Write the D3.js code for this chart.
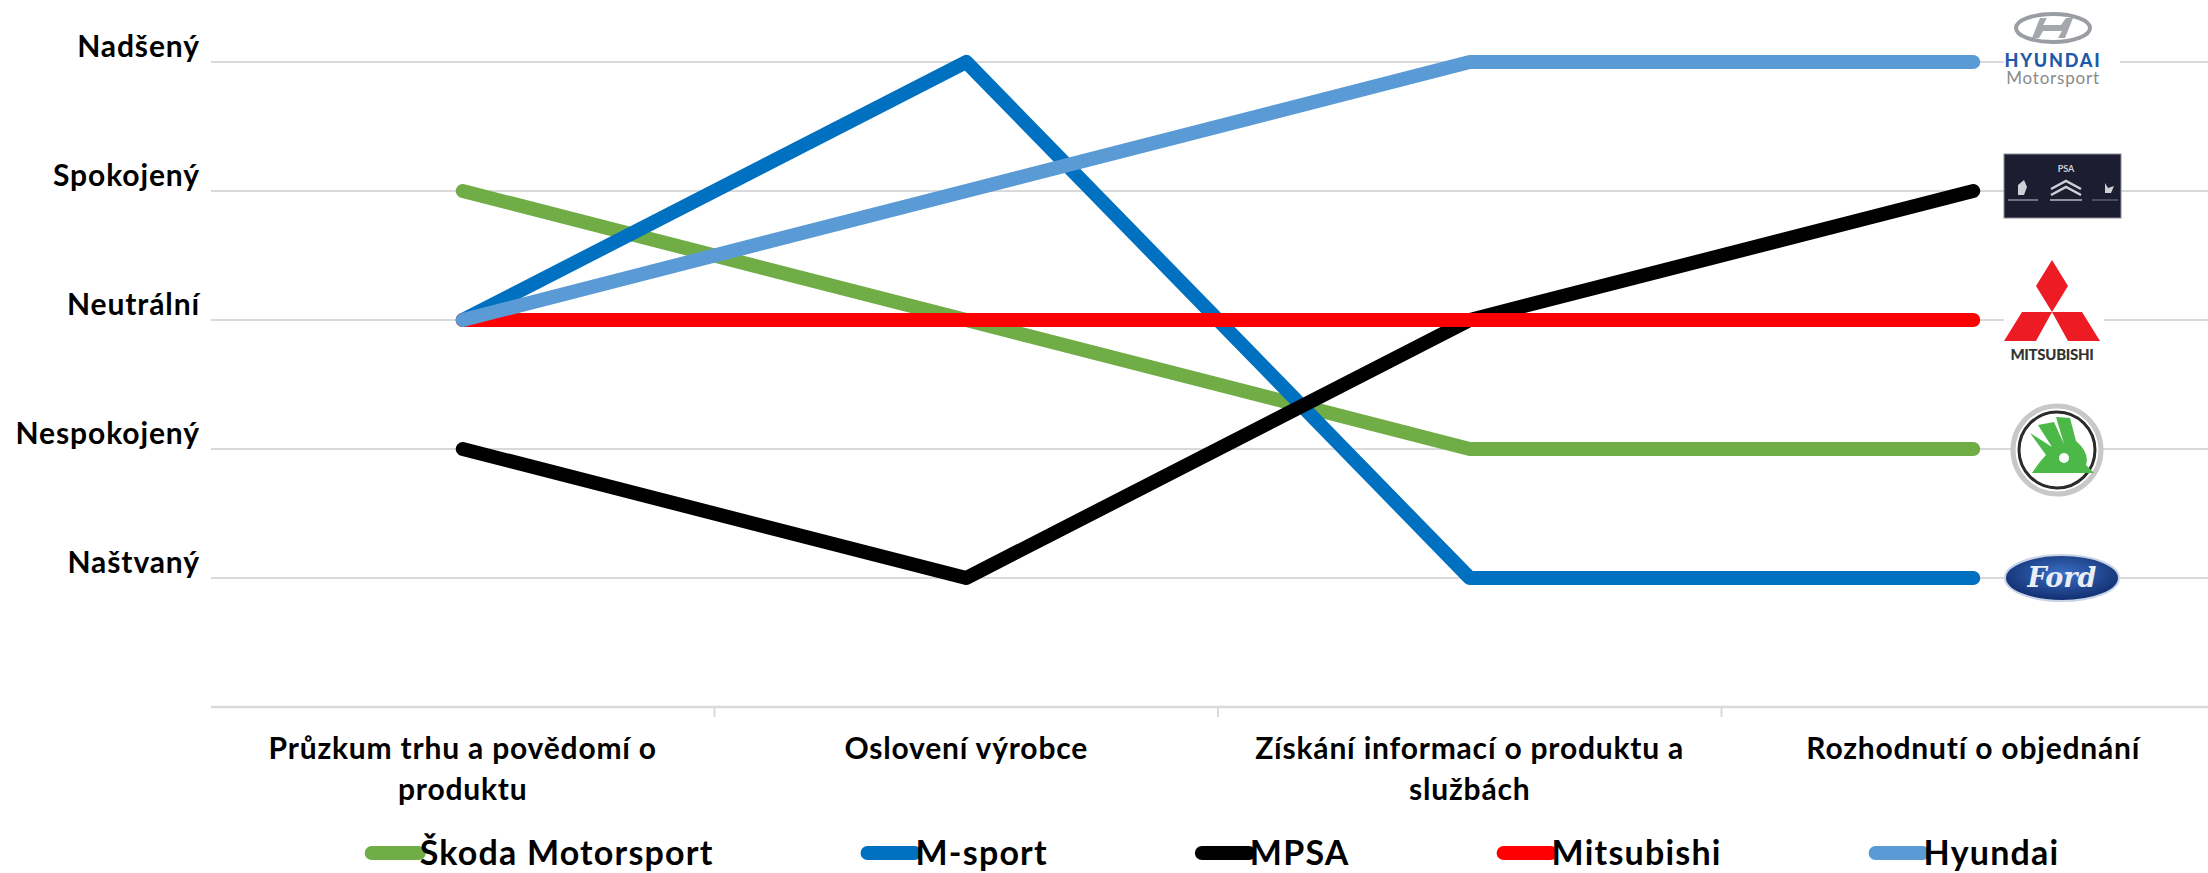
<!DOCTYPE html>
<html>
<head>
<meta charset="utf-8">
<script src="https://cdn.jsdelivr.net/npm/d3@7"></script>
<style>
  body { margin: 0; background: #fff; }
  svg { display: block; font-family: Lato, "Open Sans", sans-serif; }
</style>
</head>
<body>
<svg width="2208" height="873"></svg>
<script>
var categories = [
  ["Průzkum trhu a povědomí o", "produktu"],
  ["Oslovení výrobce"],
  ["Získání informací o produktu a", "službách"],
  ["Rozhodnutí o objednání"]
];
var levelLabels = ["Naštvaný", "Nespokojený", "Neutrální", "Spokojený", "Nadšený"];
var levelValues = [1, 2, 3, 4, 5];

var seriesNames = ["Škoda Motorsport", "M-sport", "MPSA", "Mitsubishi", "Hyundai"];
var seriesColors = ["#70ad47", "#0070c0", "#000000", "#ff0000", "#5b9bd5"];
var skodaValues = [4, 3, 2, 2];
var msportValues = [3, 5, 1, 1];
var mpsaValues = [2, 1, 3, 4];
var mitsubishiValues = [3, 3, 3, 3];
var hyundaiValues = [3, 4, 5, 5];
var logos = ["skoda", "ford", "psa", "mitsubishi", "hyundai"];

var series = seriesNames.map(function (name, i) {
  return {
    name: name,
    color: seriesColors[i],
    values: [skodaValues, msportValues, mpsaValues, mitsubishiValues, hyundaiValues][i]
  };
});

var svg = d3.select("svg");
var catKeys = categories.map(function (c) { return c.join(" "); });

var xBand = d3.scaleBand().domain(catKeys).range([211, 2225]);
var yScale = d3.scaleLinear().domain([0, 5]).range([707, 62]);
var xCenter = function (i) { return xBand(catKeys[i]) + xBand.bandwidth() / 2; };

// gridlines
svg.append("g")
  .selectAll("line")
  .data(levelValues)
  .enter()
  .append("line")
  .attr("x1", 211)
  .attr("x2", 2208)
  .attr("y1", function (d) { return yScale(d); })
  .attr("y2", function (d) { return yScale(d); })
  .attr("stroke", "#d9d9d9")
  .attr("stroke-width", 2);

// category axis line + ticks between categories
svg.append("line")
  .attr("x1", 211).attr("x2", 2208)
  .attr("y1", yScale(0)).attr("y2", yScale(0))
  .attr("stroke", "#d9d9d9").attr("stroke-width", 2.5);

svg.append("g")
  .selectAll("line")
  .data(catKeys.slice(1))
  .enter()
  .append("line")
  .attr("x1", function (d) { return xBand(d); })
  .attr("x2", function (d) { return xBand(d); })
  .attr("y1", yScale(0))
  .attr("y2", yScale(0) + 10)
  .attr("stroke", "#d9d9d9").attr("stroke-width", 2);

// y labels
svg.append("g")
  .selectAll("text")
  .data(levelValues)
  .enter()
  .append("text")
  .attr("x", 200)
  .attr("y", function (d) { return yScale(d) - 5; })
  .attr("text-anchor", "end")
  .attr("font-size", "30px")
  .attr("font-weight", "bold")
  .attr("letter-spacing", "0.9")
  .attr("fill", "#000")
  .text(function (d, i) { return levelLabels[i]; });

// category labels
var catLabel = svg.append("g")
  .selectAll("text")
  .data(categories)
  .enter()
  .append("text")
  .attr("text-anchor", "middle")
  .attr("font-size", "30px")
  .attr("font-weight", "bold")
  .attr("letter-spacing", "0.8")
  .attr("fill", "#000");

catLabel.selectAll("tspan")
  .data(function (d, i) { return d.map(function (t) { return { t: t, i: i }; }); })
  .enter()
  .append("tspan")
  .attr("x", function (d) { return xCenter(d.i); })
  .attr("y", function (d, j) { return 759 + j * 41; })
  .text(function (d) { return d.t; });

// lines
var line = d3.line()
  .x(function (d, i) { return xCenter(i); })
  .y(function (d) { return yScale(d); });

svg.append("g")
  .selectAll("path")
  .data(series)
  .enter()
  .append("path")
  .attr("d", function (d) { return line(d.values); })
  .attr("fill", "none")
  .attr("stroke", function (d) { return d.color; })
  .attr("stroke-width", 14)
  .attr("stroke-linecap", "round")
  .attr("stroke-linejoin", "round");

// logos at the end of each series
var logoX = 2062;
var logoG = svg.append("g");

series.forEach(function (s, i) {
  var y = yScale(s.values[s.values.length - 1]);
  var g = logoG.append("g").attr("transform", "translate(" + logoX + "," + y + ")");
  drawLogo(g, logos[i]);
});

function drawLogo(g, kind) {
  if (kind === "hyundai") {
    g.append("rect").attr("x", -58).attr("y", -62).attr("width", 116).attr("height", 90).attr("fill", "#fff");
    g.append("ellipse").attr("cx", -9).attr("cy", -34).attr("rx", 37).attr("ry", 14)
      .attr("fill", "none").attr("stroke", "#9a9da2").attr("stroke-width", 4);
    g.append("path")
      .attr("d", "M-30,-24 L-22,-44 L-15,-44 L-19,-37 L-1,-37 L4,-44 L11,-44 L3,-24 L-4,-24 L0,-31 L-19,-31 L-23,-24 Z")
      .attr("fill", "#a4a7ab");
    g.append("text").attr("x", -9).attr("y", 5).attr("text-anchor", "middle")
      .attr("font-size", "18px").attr("font-weight", "900").attr("fill", "#1f5aa8")
      .attr("letter-spacing", "1.8").text("HYUNDAI");
    g.append("text").attr("x", -9).attr("y", 22).attr("text-anchor", "middle")
      .attr("font-size", "17px").attr("fill", "#8a8a8a").attr("letter-spacing", "0.8").text("Motorsport");
  } else if (kind === "psa") {
    g.append("rect").attr("x", -58).attr("y", -37).attr("width", 117).attr("height", 64)
      .attr("fill", "#1c1d30").attr("stroke", "#8c8c96").attr("stroke-width", 1);
    g.append("text").attr("x", 4).attr("y", -19).attr("text-anchor", "middle")
      .attr("font-size", "9px").attr("font-weight", "bold").attr("fill", "#cfd0d6").text("PSA");
    g.append("path").attr("d", "M-11,-2 L4,-10 L19,-2 M-11,4 L4,-4 L19,4")
      .attr("fill", "none").attr("stroke", "#cfd0d6").attr("stroke-width", 2.5);
    g.append("path").attr("d", "M-44,-6 L-38,-11 L-35,-4 L-38,4 L-44,4 Z").attr("fill", "#cfd0d6");
    g.append("path").attr("d", "M43,-8 L46,-3 L52,-5 L49,2 L43,2 Z").attr("fill", "#cfd0d6");
    g.append("rect").attr("x", -54).attr("y", 8).attr("width", 30).attr("height", 2).attr("fill", "#6f7080");
    g.append("rect").attr("x", -12).attr("y", 8).attr("width", 32).attr("height", 2).attr("fill", "#8f909c");
    g.append("rect").attr("x", 30).attr("y", 8).attr("width", 26).attr("height", 2).attr("fill", "#4c4d5c");
  } else if (kind === "mitsubishi") {
    g.append("rect").attr("x", -58).attr("y", -64).attr("width", 100).attr("height", 108).attr("fill", "#fff");
    g.append("path")
      .attr("d", "M-10,-60 L6,-34 L-10,-8 L-26,-34 Z M-10,-8 L20,-8 L38,21 L6,21 Z M-10,-8 L-40,-8 L-58,21 L-26,21 Z")
      .attr("fill", "#ed1c24");
    g.append("text").attr("x", -10).attr("y", 40).attr("text-anchor", "middle")
      .attr("font-size", "15px").attr("font-weight", "900").attr("fill", "#333")
      .attr("letter-spacing", "-0.3").text("MITSUBISHI");
  } else if (kind === "skoda") {
    g.append("circle").attr("cx", -5).attr("cy", 1).attr("r", 44).attr("fill", "#fff")
      .attr("stroke", "#c8c8c8").attr("stroke-width", 5);
    g.append("circle").attr("cx", -5).attr("cy", 1).attr("r", 38).attr("fill", "#fff")
      .attr("stroke", "#2b2b2b").attr("stroke-width", 3);
    g.append("path")
      .attr("d", "M-32,-16 L-10,-2 L-24,-24 L-8,-27 L2,-5 L-6,-32 L8,-31 L14,-8 Q28,4 24,16 L32,24 L-30,24 Q-22,12 -16,6 Z")
      .attr("fill", "#4cb848");
    g.append("circle").attr("cx", 2).attr("cy", 9).attr("r", 5).attr("fill", "#fff");
  } else if (kind === "ford") {
    var grad = svg.append("defs").append("radialGradient").attr("id", "fordGrad")
      .attr("cx", "50%").attr("cy", "40%").attr("r", "60%");
    grad.append("stop").attr("offset", "0%").attr("stop-color", "#3b6fc4");
    grad.append("stop").attr("offset", "100%").attr("stop-color", "#102d6e");
    g.append("ellipse").attr("cx", 0).attr("cy", 0).attr("rx", 57).attr("ry", 23)
      .attr("fill", "url(#fordGrad)").attr("stroke", "#c9d3e6").attr("stroke-width", 2);
    g.append("text").attr("x", 0).attr("y", 9).attr("text-anchor", "middle")
      .attr("font-size", "27px").attr("font-style", "italic").attr("font-weight", "bold")
      .attr("font-family", "'DejaVu Serif', serif")
      .attr("fill", "#e9eef7").text("Ford");
  }
}

// legend
var legend = svg.append("g").attr("transform", "translate(0,853)");
var items = legend.selectAll("g")
  .data(series)
  .enter()
  .append("g");

items.append("line")
  .attr("x1", 7).attr("x2", 54)
  .attr("y1", 0).attr("y2", 0)
  .attr("stroke", function (d) { return d.color; })
  .attr("stroke-width", 14)
  .attr("stroke-linecap", "round");

items.append("text")
  .attr("x", 55)
  .attr("y", 12)
  .attr("font-size", "34px")
  .attr("font-weight", "bold")
  .attr("letter-spacing", "1.2")
  .attr("fill", "#000")
  .text(function (d) { return d.name; });

var gap = 147;
var widths = [];
items.each(function () { widths.push(55 + d3.select(this).select("text").node().getComputedTextLength()); });
var total = d3.sum(widths) + gap * (widths.length - 1);
var pos = 1212 - total / 2;
items.attr("transform", function (d, i) {
  var x = pos;
  pos += widths[i] + gap;
  return "translate(" + x + ",0)";
});
</script>
</body>
</html>
